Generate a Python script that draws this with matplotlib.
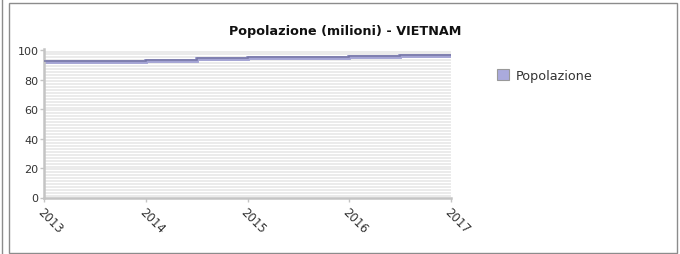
import matplotlib
matplotlib.use("Agg")
import matplotlib.pyplot as plt
from matplotlib.patches import Patch, Rectangle
from matplotlib.lines import Line2D
import matplotlib.transforms as mtransforms
import numpy as np

# step edges (years) and population values (millions)
edges = [2013, 2014, 2014.5, 2015, 2016, 2016.5, 2017]
popolazione = [92.2, 92.9, 93.9, 94.6, 95.1, 95.9]
year_ticks = [2013, 2014, 2015, 2016, 2017]
y_ticks = [0, 20, 40, 60, 80, 100]

title = "Popolazione (milioni) - VIETNAM"
series_name = "Popolazione"

light = "#a4a4d4"
dark = "#7676a6"
grey_axis = "#c4c4c4"
text_col = "#333333"

plt.rcParams["font.family"] = "DejaVu Sans"

fig = plt.figure(figsize=(6.8, 2.55), dpi=100)
W, H = 680, 255

# outer frames
fig.patches.append(Rectangle((9 / W, 1 - 254 / H), (677 - 9) / W, (254 - 4) / H,
                             transform=fig.transFigure, fill=False,
                             ec="#8c8c8c", lw=1.0))
fig.add_artist(Line2D([2 / W, 2 / W], [0, 1], transform=fig.transFigure,
                      color="#8c8c8c", lw=1.0))

ax = fig.add_axes([44 / W, 1 - 198.5 / H, (451 - 44) / W, (198.5 - 50) / H])
ax.set_xlim(2013, 2017)
ax.set_ylim(0, 100.7)

# striped background: gridlines every 2 units
for v in np.arange(1, 101, 2):
    ax.axhline(v, color="#e6e6e6", lw=1.1, zorder=0)

ax.stairs(popolazione, edges, color=light, lw=2.8, baseline=None, zorder=2)
up = mtransforms.offset_copy(ax.transData, fig=fig, x=0, y=1, units="dots")
ax.stairs(popolazione, edges, color=dark, lw=1.1, baseline=None, zorder=3,
          transform=up)

for s in ["top", "right"]:
    ax.spines[s].set_visible(False)
for s in ["left", "bottom"]:
    ax.spines[s].set_color(grey_axis)
    ax.spines[s].set_linewidth(1.8)

ax.set_xticks(year_ticks)
ax.set_xticklabels([str(y) for y in year_ticks], rotation=-45, ha="left",
                   va="top", rotation_mode="anchor")
ax.set_yticks(y_ticks)
ax.tick_params(axis="both", colors=grey_axis, labelcolor=text_col,
               labelsize=8, length=3, width=1)
ax.tick_params(axis="x", pad=2, labelsize=8.5)
ax.tick_params(axis="y", pad=1)

fig.text(345 / W, 1 - 31 / H, title, ha="center", va="center",
         fontsize=9.2, fontweight="bold", color="#111111")

handle = Patch(facecolor="#aaaadd", edgecolor="#999999", lw=0.8)
fig.legend([handle], [series_name], loc="upper left",
           bbox_to_anchor=(485 / W, 1 - 58 / H), frameon=False,
           fontsize=9.2, handlelength=1.0, handleheight=1.0, handletextpad=0.5,
           labelcolor=text_col)

fig.savefig("out.png", dpi=100)
